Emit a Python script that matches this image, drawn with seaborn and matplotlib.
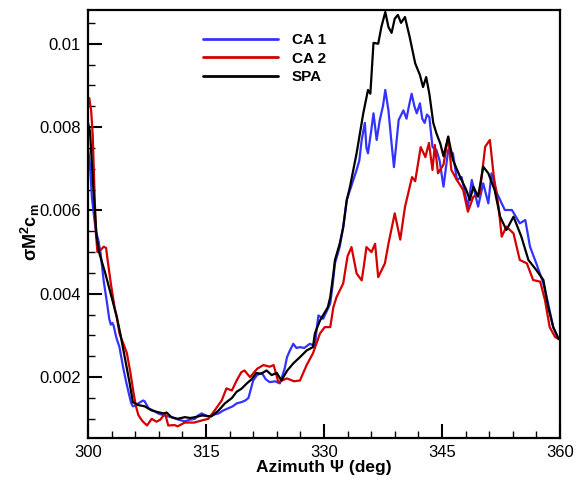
import numpy as np
import pandas as pd
import matplotlib
matplotlib.use("Agg")
import matplotlib.pyplot as plt
from matplotlib.ticker import MultipleLocator, FuncFormatter
import seaborn as sns

# Azimuth (deg) and sigma M^2 c_m for each model
spa_az = [300.0, 300.25, 300.67, 301.1, 301.4, 302.2, 303.0, 303.65, 304.1, 304.7,
          305.3, 305.7, 306.4, 307.2, 308.1, 308.9, 309.6, 310.0, 310.6, 311.4,
          312.3, 313.0, 313.6, 314.5, 315.7, 316.6, 317.4, 318.3, 318.9, 319.5,
          320.2, 320.8, 321.4, 322.0, 322.7, 323.35, 324.0, 324.6, 325.3, 326.1,
          326.95, 327.8, 328.6, 328.85, 329.5, 330.5, 330.8, 331.2, 331.4, 332.0,
          332.45, 332.9, 333.3, 334.15, 335.0, 335.6, 335.9, 336.3, 336.9, 337.3,
          337.8, 338.2, 338.6, 339.0, 339.4, 339.8, 340.3, 340.9, 341.6, 342.2,
          342.6, 343.0, 343.4, 343.9, 344.3, 344.8, 345.2, 345.8, 346.4, 347.3,
          348.1, 348.55, 349.0, 349.6, 350.25, 350.9, 351.7, 352.4, 353.2, 354.1,
          355.1, 356.0, 357.0, 357.9, 358.5, 359.15, 359.8, 360.0]
spa_val = [0.0081, 0.0079, 0.00657, 0.00537, 0.0050, 0.00449, 0.00392, 0.00345, 0.00305, 0.00245,
           0.00185, 0.00140, 0.00133, 0.00130, 0.00120, 0.00116, 0.00113, 0.00115, 0.00104, 0.00100,
           0.00104, 0.00102, 0.00104, 0.00108, 0.00106, 0.00120, 0.00137, 0.00150, 0.00165, 0.00172,
           0.00185, 0.00195, 0.00210, 0.00208, 0.00216, 0.00205, 0.00210, 0.00192, 0.00215, 0.00233,
           0.00248, 0.00264, 0.00272, 0.00305, 0.00336, 0.00368, 0.00392, 0.00449, 0.00481, 0.00520,
           0.00560, 0.00625, 0.00656, 0.00737, 0.00833, 0.00889, 0.00880, 0.01002, 0.01000, 0.01040,
           0.01076, 0.01040, 0.01026, 0.01060, 0.01069, 0.01050, 0.01064, 0.01016, 0.00953, 0.00925,
           0.00896, 0.00920, 0.00880, 0.00810, 0.00785, 0.00760, 0.00730, 0.00777, 0.00721, 0.00681,
           0.00649, 0.00625, 0.00657, 0.00633, 0.00705, 0.00689, 0.00649, 0.00585, 0.00553, 0.00585,
           0.00537, 0.00481, 0.00457, 0.00433, 0.00369, 0.00320, 0.00293, 0.00290]

ca1_az = [300.0, 300.25, 300.5, 300.8, 301.0, 301.3, 301.6, 302.0, 302.4, 302.7,
          302.9, 303.1, 303.25, 303.6, 304.0, 304.5, 304.8, 305.2, 305.5, 305.7,
          306.1, 306.4, 307.0, 307.2, 307.7, 308.3, 308.9, 309.7, 310.6, 311.5,
          312.3, 313.0, 313.6, 314.0, 314.45, 315.3, 316.0, 316.6, 317.2, 317.8,
          318.4, 318.9, 319.5, 320.0, 320.4, 321.0, 321.5, 322.1, 322.6, 323.1,
          323.8, 324.4, 325.0, 325.3, 325.7, 326.1, 326.5, 326.95, 327.5, 328.2,
          328.85, 329.1, 329.3, 329.9, 330.4, 330.8, 331.1, 331.4, 332.0, 332.45,
          332.9, 333.3, 334.15, 334.5, 334.8, 335.2, 335.4, 335.6, 336.0, 336.3,
          336.7, 337.1, 337.5, 337.8, 338.2, 338.6, 338.9, 339.2, 339.5, 340.1,
          340.5, 340.8, 341.15, 341.5, 341.8, 342.2, 342.5, 342.8, 343.1, 343.4,
          343.8, 344.3, 344.7, 345.2, 345.8, 346.4, 346.9, 347.5, 348.3, 348.8,
          349.6, 350.25, 350.9, 351.3, 352.0, 353.0, 353.9, 354.9, 355.6, 356.2,
          357.0, 357.9, 358.5, 359.15, 359.8, 360.0]
ca1_val = [0.0075, 0.0071, 0.0063, 0.0058, 0.0055, 0.0053, 0.00497, 0.0043, 0.0038, 0.0034,
           0.00326, 0.0033, 0.00324, 0.00295, 0.00272, 0.0022, 0.00193, 0.0016, 0.00137, 0.0013,
           0.00132, 0.00137, 0.00144, 0.00142, 0.00125, 0.0012, 0.00113, 0.00108, 0.00104, 0.00098,
           0.00094, 0.00098, 0.00100, 0.00108, 0.00113, 0.00105, 0.00110, 0.00113, 0.0012, 0.00125,
           0.0013, 0.00137, 0.0014, 0.00144, 0.0015, 0.00192, 0.00205, 0.0021, 0.00195, 0.00188,
           0.0019, 0.00185, 0.0022, 0.00248, 0.00265, 0.0028, 0.0027, 0.00272, 0.0027, 0.0028,
           0.00275, 0.0032, 0.00348, 0.0034, 0.0036, 0.00377, 0.0042, 0.00473, 0.00512, 0.0056,
           0.00625, 0.00648, 0.00697, 0.0072, 0.00769, 0.0081, 0.0075, 0.00737, 0.0079, 0.00833,
           0.00769, 0.00817, 0.0085, 0.00889, 0.0084, 0.0076, 0.00704, 0.0076, 0.00817, 0.0084,
           0.0082, 0.0085, 0.0088, 0.0085, 0.00833, 0.00857, 0.0082, 0.0081, 0.0083, 0.00824,
           0.00752, 0.00745, 0.0072, 0.00657, 0.00745, 0.00737, 0.00673, 0.0068, 0.00609, 0.00673,
           0.00609, 0.00665, 0.00617, 0.00689, 0.00641, 0.00601, 0.00601, 0.00569, 0.00577, 0.00513,
           0.00473, 0.00425, 0.00377, 0.0032, 0.00293, 0.0029]

ca2_az = [300.0, 300.15, 300.4, 300.6, 300.8, 301.0, 301.2, 301.6, 302.0, 302.3,
          302.5, 302.9, 303.4, 303.65, 304.0, 304.5, 304.95, 305.4, 305.8, 306.1,
          306.4, 306.9, 307.5, 308.1, 308.7, 309.2, 309.8, 310.2, 311.0, 311.4,
          312.3, 313.5, 314.45, 315.3, 316.1, 317.0, 317.6, 318.3, 318.9, 319.5,
          319.9, 320.6, 321.5, 322.3, 323.1, 323.6, 324.2, 325.3, 326.2, 326.95,
          327.8, 328.6, 329.5, 330.1, 330.8, 331.2, 331.6, 332.45, 333.0, 333.5,
          334.15, 334.8, 335.1, 335.4, 336.05, 336.5, 336.9, 337.75, 338.2, 339.0,
          339.7, 340.3, 341.2, 341.6, 342.3, 342.9, 343.35, 343.8, 344.1, 344.5,
          345.2, 345.8, 346.2, 346.9, 347.7, 348.3, 349.0, 349.8, 350.5, 351.1,
          351.6, 352.2, 352.6, 353.2, 354.1, 354.9, 355.8, 356.6, 357.5, 358.1,
          358.7, 359.4, 360.0]
ca2_val = [0.0086, 0.0087, 0.0084, 0.0078, 0.0066, 0.00545, 0.0050, 0.00505, 0.00513, 0.0051,
           0.0048, 0.00425, 0.00365, 0.00345, 0.00305, 0.0028, 0.00257, 0.0021, 0.00161, 0.0013,
           0.00109, 0.00095, 0.00084, 0.0010, 0.00093, 0.00098, 0.00113, 0.00084, 0.00085, 0.00082,
           0.00091, 0.00091, 0.00096, 0.0010, 0.0012, 0.00144, 0.00173, 0.00168, 0.00192, 0.00212,
           0.00216, 0.0020, 0.0022, 0.00229, 0.00225, 0.00229, 0.00188, 0.00197, 0.0019, 0.00192,
           0.00229, 0.00257, 0.00305, 0.0032, 0.0032, 0.00368, 0.00392, 0.00425, 0.0049, 0.00512,
           0.00449, 0.00432, 0.0047, 0.00512, 0.0050, 0.0052, 0.0044, 0.00473, 0.0052, 0.00593,
           0.0053, 0.00608, 0.0068, 0.0067, 0.00752, 0.00728, 0.00762, 0.00697, 0.00757, 0.00689,
           0.0071, 0.00777, 0.00697, 0.00673, 0.00649, 0.00597, 0.00633, 0.0064, 0.00753, 0.00769,
           0.00681, 0.00609, 0.00537, 0.00561, 0.00545, 0.00481, 0.00473, 0.00433, 0.00429, 0.00385,
           0.0032, 0.00296, 0.0029]

series_names = ["CA 1", "CA 2", "SPA"]
series_colors = {"CA 1": "#3333ff", "CA 2": "#d40000", "SPA": "#000000"}

df = pd.concat([
    pd.DataFrame({"az": ca1_az, "val": ca1_val, "model": "CA 1"}),
    pd.DataFrame({"az": ca2_az, "val": ca2_val, "model": "CA 2"}),
    pd.DataFrame({"az": spa_az, "val": spa_val, "model": "SPA"}),
], ignore_index=True)

sns.set_style("white")
plt.rcParams["font.family"] = ["Liberation Sans", "DejaVu Sans"]
plt.rcParams["mathtext.fontset"] = "custom"
plt.rcParams["mathtext.rm"] = "Liberation Sans:bold"
plt.rcParams["mathtext.it"] = "Liberation Sans:bold"
plt.rcParams["mathtext.bf"] = "Liberation Sans:bold"
plt.rcParams["text.color"] = "black"
plt.rcParams["axes.labelcolor"] = "black"
plt.rcParams["xtick.color"] = "black"
plt.rcParams["ytick.color"] = "black"

fig = plt.figure(figsize=(5.79, 4.78), dpi=100)
ax = fig.add_axes([0.152, 0.0837, 0.815, 0.8955])

sns.lineplot(data=df, x="az", y="val", hue="model", hue_order=series_names,
             palette=series_colors, estimator=None, sort=False, lw=1.6, ax=ax)

ax.set_xlim(300, 360)
ax.set_ylim(0.00054, 0.01081)
ax.xaxis.set_major_locator(MultipleLocator(15))
ax.xaxis.set_minor_locator(MultipleLocator(3))
ax.yaxis.set_major_locator(MultipleLocator(0.002))
ax.yaxis.set_minor_locator(MultipleLocator(0.0005))
ax.yaxis.set_major_formatter(FuncFormatter(lambda v, p: f"{v:g}"))
ax.tick_params(which="major", direction="in", length=10, width=1.5,
               labelsize=12, pad=5, bottom=True, left=True, top=False, right=False,
               colors="black")
ax.tick_params(which="minor", direction="in", length=5, width=1.0,
               bottom=True, left=True, top=False, right=False, colors="black")
for s in ax.spines.values():
    s.set_linewidth(1.6)
    s.set_color("black")

ax.set_xlabel("Azimuth \u03a8 (deg)", fontsize=12.5, fontweight="bold", labelpad=0)
ax.set_ylabel(r"$\sigma$M$^{2}$c$_{m}$", fontsize=13, fontweight="bold")
ax.yaxis.set_label_coords(-0.097, 0.48)

leg = ax.legend(loc="upper left", bbox_to_anchor=(0.244, 0.946), frameon=False,
                fontsize=11, handlelength=4.9, handletextpad=0.9, labelspacing=0.3,
                borderpad=0, borderaxespad=0)
for t in leg.get_texts():
    t.set_fontweight("bold")
    t.set_color("black")
for h in leg.get_lines():
    h.set_linewidth(2)

fig.savefig("out.png", dpi=100)
